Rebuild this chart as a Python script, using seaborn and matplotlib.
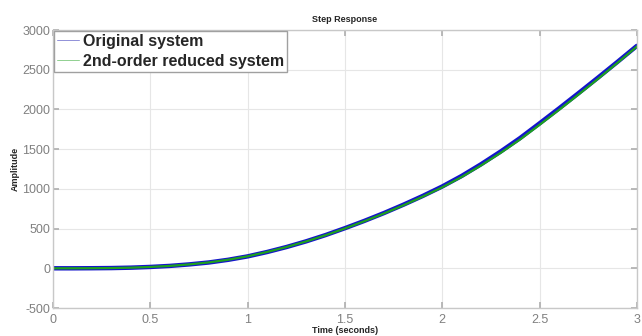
import numpy as np
import pandas as pd
import matplotlib
matplotlib.use("Agg")
import matplotlib.pyplot as plt
from matplotlib.lines import Line2D
import seaborn as sns

# values (every 0.1 s)
time_s = [round(0.1 * i, 1) for i in range(31)]
original = [0, 0, 1, 3, 8, 17, 30, 49, 73, 107,
            150, 205, 268, 339, 418, 505, 597, 695, 800, 911,
            1030, 1163, 1311, 1470, 1640, 1825, 2013, 2205, 2400, 2598,
            2800]
reduced = [0, 0, 1, 3, 8, 17, 30, 49, 74, 108,
           151, 206, 268, 338, 416, 502, 593, 690, 793, 903,
           1020, 1150, 1296, 1453, 1622, 1806, 1994, 2187, 2384, 2586,
           2792]
series_names = ["Original system", "2nd-order reduced system"]

sns.set_theme(style="whitegrid")
plt.rcParams['font.family'] = ['Liberation Sans', 'DejaVu Sans']
plt.rcParams['axes.unicode_minus'] = False

df = pd.DataFrame({
    "t": time_s * 2,
    "y": original + reduced,
    "sys": [series_names[0]] * len(time_s) + [series_names[1]] * len(time_s),
})

fig = plt.figure(figsize=(6.42, 3.36), dpi=100)
ax = fig.add_axes([0.0826, 0.0833, 0.9094, 0.8274])

sns.lineplot(data=df[df.sys == series_names[0]], x="t", y="y", color="#1414cc",
             lw=3.2, ax=ax, legend=False)
sns.lineplot(data=df[df.sys == series_names[1]], x="t", y="y", color="#1ea01e",
             lw=1.6, ax=ax, legend=False)

ax.set_xlim(0, 3)
ax.set_ylim(-500, 3000)
ax.set_xticks(np.arange(0, 3.01, 0.5))
ax.set_xticklabels(["0", "0.5", "1", "1.5", "2", "2.5", "3"])
ax.set_yticks(np.arange(-500, 3001, 500))

ax.grid(True, color="#e6e6e6", lw=0.8)
for s in ax.spines.values():
    s.set_color("#c8c8c8")
    s.set_linewidth(1.0)
ax.tick_params(axis="both", direction="in", length=4, color="#b0b0b0",
               labelsize=9, labelcolor="#808080",
               top=True, right=True, bottom=True, left=True)
ax.tick_params(axis="x", pad=4)
ax.tick_params(axis="y", pad=2)

ax.set_title("Step Response", fontsize=6.5, fontweight="bold", pad=6)
ax.set_xlabel("Time (seconds)", fontsize=6.5, fontweight="bold", labelpad=0)
ax.set_ylabel("Amplitude", fontsize=6.5, fontweight="bold", labelpad=2)

handles = [Line2D([], [], color="#9090d8", lw=0.7),
           Line2D([], [], color="#90d090", lw=0.7)]
leg = ax.legend(handles, series_names, loc="upper left", fancybox=False,
                frameon=True, borderaxespad=0.05, borderpad=0.2,
                handlelength=1.4, handletextpad=0.2, labelspacing=0.3,
                prop={"weight": "bold", "size": 11.5})
leg.get_frame().set_edgecolor("#a0a0a0")
leg.get_frame().set_linewidth(1.0)
leg.get_frame().set_alpha(1)

fig.savefig("out.png", dpi=100)
